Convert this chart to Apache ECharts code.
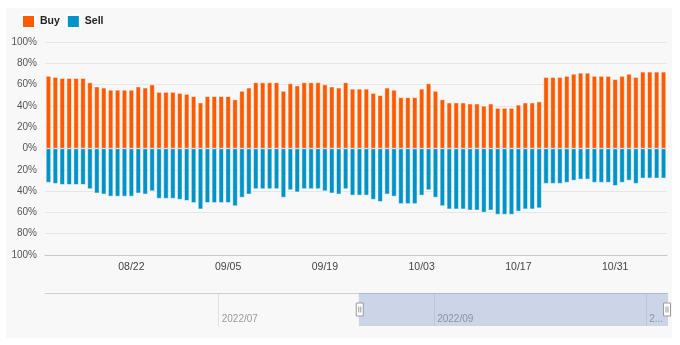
<!DOCTYPE html>
<html>
<head>
<meta charset="utf-8">
<script src="https://cdn.jsdelivr.net/npm/echarts@6/dist/echarts.min.js"></script>
<style>
html,body{margin:0;padding:0;background:#fff;}
#bg{position:absolute;left:6px;top:8px;width:666px;height:330px;background:#f8f8f8;}
#chart{position:absolute;left:0;top:0;width:680px;height:345px;}
</style>
</head>
<body>
<div id="bg"></div>
<div id="chart"></div>
<script>
var categories = [
'08/10','08/11','08/12','08/13','08/14','08/15','08/16','08/17','08/18','08/19','08/20','08/21','08/22','08/23','08/24','08/25','08/26','08/27','08/28','08/29','08/30','08/31',
'09/01','09/02','09/03','09/04','09/05','09/06','09/07','09/08','09/09','09/10','09/11','09/12','09/13','09/14','09/15','09/16','09/17','09/18','09/19','09/20','09/21','09/22','09/23','09/24','09/25','09/26','09/27','09/28','09/29','09/30',
'10/01','10/02','10/03','10/04','10/05','10/06','10/07','10/08','10/09','10/10','10/11','10/12','10/13','10/14','10/15','10/16','10/17','10/18','10/19','10/20','10/21','10/22','10/23','10/24','10/25','10/26','10/27','10/28','10/29','10/30','10/31',
'11/01','11/02','11/03','11/04','11/05','11/06','11/07'
];
var buy = [
68,67,66,66,66,66,62,58,57,55,55,55,55,58,57,60,53,53,53,52,51,49,43,49,49,49,49,46,54,57,62,
62,62,62,54,61,59,62,62,62,60,58,57,62,56,56,56,52,50,57,55,48,48,48,56,61,54,46,43,43,43,42,
42,40,42,38,38,38,41,43,43,44,67,67,67,68,70,71,71,68,68,68,65,68,70,67,72,72,72,72
];
var sell = [
32,33,34,34,34,34,38,42,43,45,45,45,45,42,43,40,47,47,47,48,49,51,57,51,51,51,51,54,46,43,38,
38,38,38,46,39,41,38,38,38,40,42,43,38,44,44,44,48,50,43,45,52,52,52,44,39,46,54,57,57,57,58,
58,60,58,62,62,62,59,57,57,56,33,33,33,32,30,29,29,32,32,32,35,32,30,33,28,28,28,28
];
var xTickLabels = ['08/22','09/05','09/19','10/03','10/17','10/31'];
var navStart = '2022-05-12';
var navEnd = '2022-11-07';
var zoomStart = '2022-08-10';
var zoomEnd = '2022-11-07';
var navTickDates = ['2022-07-01','2022-09-01','2022-11-01'];
var navTickLabels = ['2022/07','2022/09','2...'];

function buildNavDates(a, b) {
  var out = [];
  var d = new Date(a + 'T00:00:00Z');
  var e = new Date(b + 'T00:00:00Z');
  while (d <= e) {
    out.push(d.toISOString().slice(0, 10));
    d = new Date(d.getTime() + 86400000);
  }
  return out;
}
var navDates = buildNavDates(navStart, navEnd);

var FONT = 'Liberation Sans';
var chart = echarts.init(document.getElementById('chart'), null, {renderer: 'canvas'});
var showX = function (i, v) { return xTickLabels.indexOf(v) >= 0; };
var showNav = function (i, v) { return navTickDates.indexOf(v) >= 0; };

chart.setOption({
  animation: false,
  backgroundColor: 'transparent',
  textStyle: {fontFamily: FONT},
  legend: {
    left: 16, top: 9, itemWidth: 13, itemHeight: 13, itemGap: 6, icon: 'rect',
    textStyle: {fontFamily: FONT, fontSize: 10.5, fontWeight: 'bold', color: '#222'},
    data: ['Buy', 'Sell']
  },
  grid: [
    {left: 45, right: 13, top: 42, bottom: 90},
    {left: 45, right: 13, top: 293, height: 33}
  ],
  xAxis: [
    {
      type: 'category', gridIndex: 0, data: categories,
      axisLine: {onZero: false, lineStyle: {color: '#c8c8c8'}},
      axisTick: {alignWithLabel: true, inside: true, length: 4, interval: showX, lineStyle: {color: '#c8c8c8'}},
      axisLabel: {interval: showX, color: '#444', fontSize: 10.5, margin: 7, fontFamily: FONT},
      splitLine: {show: false}
    },
    {
      type: 'category', gridIndex: 1, data: navDates, boundaryGap: false, position: 'top',
      axisLine: {show: true, onZero: false, lineStyle: {color: '#cfcfcf'}},
      axisTick: {show: false},
      axisLabel: {
        inside: true, interval: showNav, margin: 21, align: 'left', padding: [0, 0, 0, 3],
        color: '#999', fontSize: 10, fontFamily: FONT,
        formatter: function (v) { var k = navTickDates.indexOf(v); return k >= 0 ? navTickLabels[k] : ''; }
      },
      splitLine: {show: true, interval: showNav, lineStyle: {color: '#e2e2e2'}}
    },
    {type: 'category', gridIndex: 1, data: navDates, show: false}
  ],
  yAxis: [
    {
      type: 'value', gridIndex: 0, min: -100, max: 100, interval: 20,
      axisLine: {show: false}, axisTick: {show: false},
      axisLabel: {color: '#555', fontSize: 10, margin: 8, fontFamily: FONT,
        formatter: function (v) { return Math.abs(v) + '%'; }},
      splitLine: {lineStyle: {color: '#e6e6e6'}}
    },
    {type: 'value', gridIndex: 1, show: false, min: 0, max: 1}
  ],
  dataZoom: [{
    type: 'slider', xAxisIndex: 2, startValue: zoomStart, endValue: zoomEnd,
    left: 45, right: 13, top: 293, height: 33,
    showDetail: false, showDataShadow: false, brushSelect: false, moveHandleSize: 0,
    borderColor: 'transparent', backgroundColor: 'transparent', borderRadius: 0,
    fillerColor: 'rgba(102,133,194,0.3)',
    handleIcon: 'path://M0,0H7V13H0Z M2.5,3.5V9.5 M4.5,3.5V9.5',
    handleSize: 13,
    handleStyle: {color: '#fff', borderColor: '#999', borderWidth: 1}
  }],
  series: [
    {
      name: 'Buy', type: 'bar', stack: 'total', xAxisIndex: 0, yAxisIndex: 0,
      data: buy, barWidth: 5,
      itemStyle: {color: '#ff5a00', borderColor: '#fff', borderWidth: 0.5}
    },
    {
      name: 'Sell', type: 'bar', stack: 'total', xAxisIndex: 0, yAxisIndex: 0,
      data: sell.map(function (v) { return -v; }), barWidth: 5,
      itemStyle: {color: '#0093c8', borderColor: '#fff', borderWidth: 0.5}
    }
  ]
});
</script>
</body>
</html>
